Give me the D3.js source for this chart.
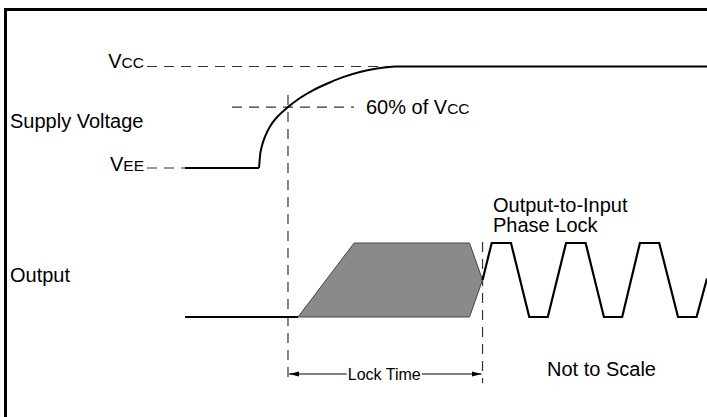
<!DOCTYPE html>
<html>
<head>
<meta charset="utf-8">
<title>lock time diagram</title>
<script src="https://d3js.org/d3.v7.min.js"></script>
<style>
  body { margin: 0; background: #fff; }
  text { font-family: "Liberation Sans", Arial, Helvetica, sans-serif; fill: #000; }
</style>
</head>
<body>
<script>
// time runs 0..100 (arbitrary units, not to scale); levels are 0 = low, 1 = high
var supplyRise = [[14.18, 0], [14.37, 0.12], [14.75, 0.22], [15.33, 0.31], [16.28, 0.41], [17.62, 0.50],
                  [19.73, 0.60], [22.03, 0.69], [24.52, 0.765], [27.39, 0.835], [30.27, 0.895],
                  [33.52, 0.945], [36.78, 0.98], [40.23, 1]];
var supplyLow = [[0, 0], [14.18, 0]];
var supplyHigh = [[40.23, 1], [100, 1]];

var outputLow = [[0, 0], [21.65, 0]];
var unlocked = [[21.65, 0], [32.4, 1], [54.5, 1], [57.0, 0.5], [54.5, 0]];
var lockedWave = [[57.0, 0.5], [58.75, 1], [62.45, 1], [65.95, 0], [69.5, 0], [73.0, 1], [76.75, 1],
                  [80.25, 0], [83.75, 0], [87.15, 1], [90.85, 1], [94.45, 0], [98.0, 0], [100, 0.52]];

var lockStart = 19.73, lockEnd = 57.0;
var threshold = 0.6;

var width = 707, height = 417;

var svg = d3.select("body").append("svg")
    .attr("width", width)
    .attr("height", height);

var x = d3.scaleLinear().domain([0, 100]).range([185, 707]);
var ySupply = d3.scaleLinear().domain([0, 1]).range([168, 66.5]);
var yOut = d3.scaleLinear().domain([0, 1]).range([317, 243]);

var defs = svg.append("defs");
var mk = defs.append("marker").attr("id", "arr").attr("viewBox", "0 0 10 6")
    .attr("refX", 10).attr("refY", 3).attr("markerWidth", 10).attr("markerHeight", 6)
    .attr("markerUnits", "userSpaceOnUse").attr("orient", "auto");
mk.append("path").attr("d", "M0,0.5L10,3L0,5.5Z").attr("fill", "#000");

// frame (top and left only)
svg.append("path").attr("d", "M5.5,417V9.5H707")
    .attr("fill", "none").attr("stroke", "#000").attr("stroke-width", 3);

var dash = "10,7";
function hdash(x0, x1, y) {
  svg.append("line").attr("x1", x0).attr("x2", x1).attr("y1", y).attr("y2", y)
    .attr("stroke", "#333").attr("stroke-width", 1.2).attr("stroke-dasharray", dash);
}
function vdash(t, y0, y1) {
  svg.append("line").attr("x1", x(t)).attr("x2", x(t)).attr("y1", y0).attr("y2", y1)
    .attr("stroke", "#333").attr("stroke-width", 1.2).attr("stroke-dasharray", dash);
}

// reference dashed lines
hdash(147, x(40.23), ySupply(1));
hdash(147, 185, ySupply(0));
hdash(232, 354, ySupply(threshold));
vdash(lockStart, 95, 383);
vdash(lockEnd, 242, 383);

// supply voltage
var supplyLine = d3.line().x(function(d) { return x(d[0]); }).y(function(d) { return ySupply(d[1]); });
svg.append("path").attr("d", supplyLine(supplyLow)).attr("fill", "none").attr("stroke", "#000").attr("stroke-width", 2);
svg.append("path").attr("d", supplyLine(supplyHigh)).attr("fill", "none").attr("stroke", "#000").attr("stroke-width", 2);
svg.append("path").attr("d", supplyLine.curve(d3.curveMonotoneX)(supplyRise))
    .attr("fill", "none").attr("stroke", "#000").attr("stroke-width", 2);

// output
var outLine = d3.line().x(function(d) { return x(d[0]); }).y(function(d) { return yOut(d[1]); });
svg.append("path").attr("d", outLine(unlocked) + "Z")
    .attr("fill", "#8a8a8a").attr("stroke", "#444").attr("stroke-width", 1);
svg.append("path").attr("d", outLine(outputLow)).attr("fill", "none").attr("stroke", "#000").attr("stroke-width", 2);
svg.append("path").attr("d", outLine(lockedWave)).attr("fill", "none").attr("stroke", "#000").attr("stroke-width", 2.2);

// labels
function vLabel(sub, y) {
  var t = svg.append("text").attr("x", 144).attr("y", y).attr("text-anchor", "end").style("font-size", "20px");
  t.append("tspan").text("V");
  t.append("tspan").style("font-size", "15.5px").text(sub);
}
vLabel("CC", ySupply(1) + 1.5);
vLabel("EE", ySupply(0) + 3);

svg.append("text").attr("x", 10).attr("y", 128).style("font-size", "20px").text("Supply Voltage");
svg.append("text").attr("x", 10).attr("y", 282).style("font-size", "20px").text("Output");

var pct = svg.append("text").attr("x", 366).attr("y", ySupply(threshold) + 7).style("font-size", "20px");
pct.append("tspan").text(Math.round(threshold * 100) + "% of V");
pct.append("tspan").style("font-size", "15.5px").text("CC");

svg.append("text").attr("x", 493).attr("y", 212).style("font-size", "20px").text("Output-to-Input");
svg.append("text").attr("x", 493).attr("y", 232).style("font-size", "20px").text("Phase Lock");

svg.append("text").attr("x", 547).attr("y", 376).style("font-size", "20px").text("Not to Scale");

// lock time dimension
var ya = 374;
var lt = svg.append("text").attr("x", (x(lockStart) + x(lockEnd)) / 2 - 1).attr("y", ya + 5.5)
    .attr("text-anchor", "middle").style("font-size", "16px").text("Lock Time");
var bb = lt.node().getBBox();
svg.append("line").attr("x1", bb.x - 1).attr("x2", x(lockStart) + 1).attr("y1", ya).attr("y2", ya)
    .attr("stroke", "#000").attr("stroke-width", 1).attr("marker-end", "url(#arr)");
svg.append("line").attr("x1", bb.x + bb.width + 1).attr("x2", x(lockEnd) - 1).attr("y1", ya).attr("y2", ya)
    .attr("stroke", "#000").attr("stroke-width", 1).attr("marker-end", "url(#arr)");
</script>
</body>
</html>
